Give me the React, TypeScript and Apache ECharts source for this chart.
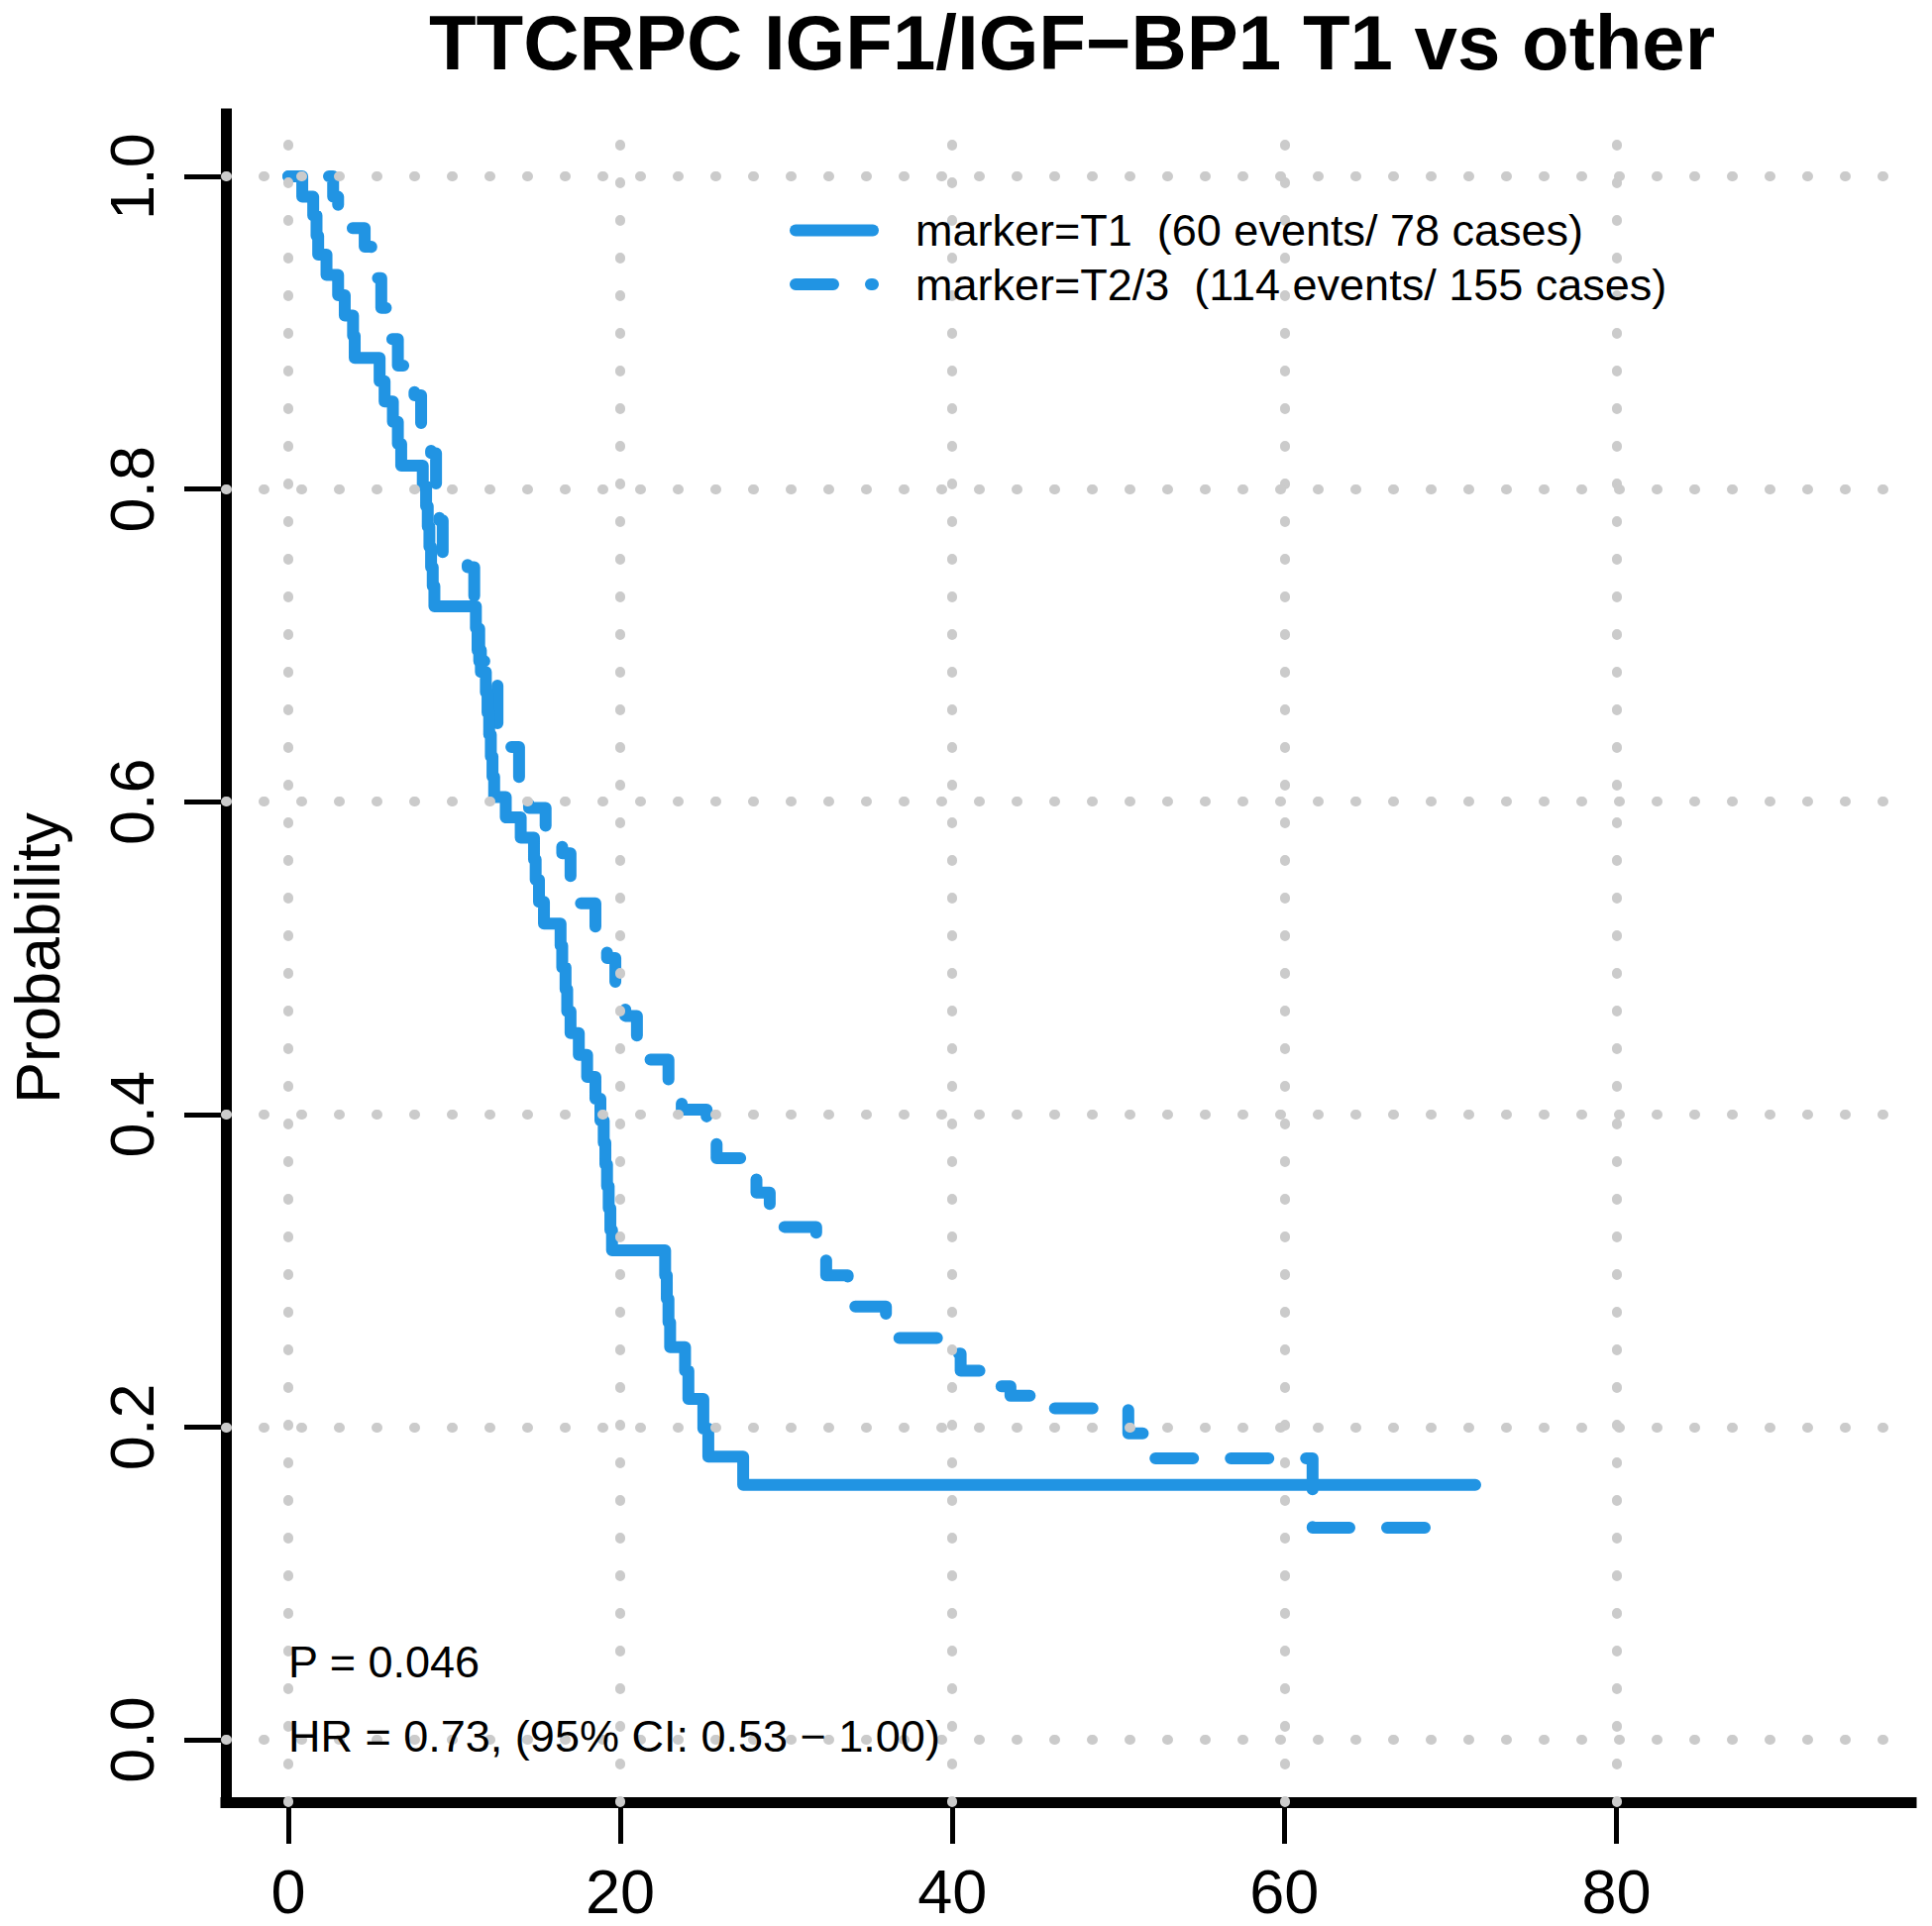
import React, { useEffect, useRef } from 'react';
import * as echarts from 'echarts';

const TITLE = 'TTCRPC IGF1/IGF\u2212BP1 T1 vs other';
const Y_NAME = 'Probability';
const X_TICKS = [0, 20, 40, 60, 80];
const Y_TICKS = [0, 0.2, 0.4, 0.6, 0.8, 1.0];
const SERIES_NAMES = ['marker=T1  (60 events/ 78 cases)', 'marker=T2/3  (114 events/ 155 cases)'];
const P_TEXT = 'P = 0.046';
const HR_TEXT = 'HR = 0.73, (95% CI: 0.53 \u2212 1.00)';

// marker=T1 (solid) Kaplan-Meier steps: time (months) and survival after the drop
const T1_TIME = [0, 0.84, 1.5, 1.7, 1.8, 2.3, 3.0, 3.4, 3.9, 4.0, 5.5, 5.8, 6.3, 6.6, 6.8, 8.1, 8.3, 8.4, 8.5, 8.6, 8.7, 8.8,
  11.3, 11.4, 11.6, 11.9, 12.0, 12.1, 12.2, 12.3, 12.4, 13.1, 14.0, 14.8, 14.9, 15.1, 15.4,
  16.4, 16.5, 16.7, 16.8, 17.0, 17.5, 18.0, 18.5, 18.8, 19.0, 19.1, 19.2, 19.3, 19.4, 19.5,
  22.7, 22.8, 22.9, 23.0, 23.9, 24.1, 25.0, 25.3, 27.4, 71.5];
const T1_SURV = [1.0, 0.987, 0.975, 0.962, 0.95, 0.937, 0.924, 0.911, 0.898, 0.884, 0.869, 0.856, 0.843, 0.829, 0.815,
  0.802, 0.789, 0.776, 0.763, 0.75, 0.738, 0.725,
  0.711, 0.697, 0.683, 0.67, 0.657, 0.643, 0.629, 0.616, 0.603, 0.59, 0.577, 0.563, 0.55, 0.536, 0.522,
  0.508, 0.494, 0.48, 0.466, 0.452, 0.438, 0.424, 0.41, 0.396, 0.382, 0.368, 0.354, 0.34, 0.326, 0.313,
  0.297, 0.282, 0.267, 0.251, 0.236, 0.218, 0.199, 0.181, 0.163, 0.163];

// marker=T2/3 (dashed)
const T23_TIME = [0, 2.7, 3.0, 4.6, 5.0, 5.3, 5.6, 5.9, 6.6, 7.2, 7.6, 8.0, 8.6, 8.9, 9.1, 9.3, 10.8, 11.2, 11.5, 12.0,
  12.6, 13.2, 13.9, 14.5, 15.5, 16.5, 17.0, 17.6, 18.5, 19.2, 19.7, 20.3, 21.0, 22.9, 23.7, 25.2, 25.8, 27.4, 28.2,
  29.0, 31.8, 32.4, 33.7, 36.0, 39.8, 40.5, 42.6, 43.5, 45.5, 50.6, 51.8, 61.7, 68.6];
const T23_SURV = [1.0, 0.987, 0.967, 0.955, 0.945, 0.935, 0.916, 0.896, 0.879, 0.868, 0.86, 0.84, 0.823, 0.8, 0.78, 0.758,
  0.75, 0.72, 0.69, 0.675, 0.65, 0.635, 0.615, 0.596, 0.58, 0.567, 0.55, 0.535, 0.516, 0.5, 0.478, 0.463, 0.435,
  0.415, 0.403, 0.384, 0.372, 0.36, 0.35, 0.328, 0.313, 0.297, 0.277, 0.257, 0.247, 0.236, 0.226, 0.22, 0.212,
  0.196, 0.18, 0.1355, 0.1355];

const FONT = '"Liberation Sans", Arial, Helvetica, sans-serif';
const BLUE = '#2194E3';
const GRID_GRAY = '#CBCBCB';

export default function App() {
  const ref = useRef<HTMLDivElement>(null);
  useEffect(() => {
    if (!ref.current) return;
    const chart = echarts.init(ref.current, undefined, { renderer: 'svg' });
    const t1 = T1_TIME.map((t, i) => [t, T1_SURV[i]]);
    const t23 = T23_TIME.map((t, i) => [t, T23_SURV[i]]);
    const textStyle = { fontFamily: FONT, color: '#000' };
    const option: any = {
      animation: false,
      backgroundColor: '#ffffff',
      title: {
        text: TITLE,
        left: 1082,
        top: 4,
        padding: 0,
        textAlign: 'center',
        textStyle: { ...textStyle, fontSize: 78, fontWeight: 'bold' },
      },
      grid: { left: 228, right: 21, top: 115, bottom: 125, containLabel: false, outerBoundsMode: 'none' },
      xAxis: {
        type: 'value',
        min: -3.76,
        max: 97.76,
        axisLine: { show: true, onZero: false, lineStyle: { color: '#000', width: 11, cap: 'square' } },
        axisTick: { show: true, length: 42, customValues: X_TICKS, lineStyle: { color: '#000', width: 5 } },
        axisLabel: {
          show: true,
          customValues: X_TICKS,
          ...textStyle,
          fontSize: 63,
          margin: 58,
          formatter: (v: number) => String(v),
        },
        splitLine: { show: false },
      },
      yAxis: {
        type: 'value',
        min: -0.04,
        max: 1.04,
        name: Y_NAME,
        nameLocation: 'middle',
        nameRotate: 90,
        nameGap: 159,
        nameTextStyle: { ...textStyle, fontSize: 63 },
        axisLine: { show: true, onZero: false, lineStyle: { color: '#000', width: 11, cap: 'square' } },
        axisTick: { show: true, length: 42, customValues: Y_TICKS, lineStyle: { color: '#000', width: 5 } },
        axisLabel: {
          show: true,
          customValues: Y_TICKS,
          rotate: 90,
          ...textStyle,
          fontSize: 63,
          margin: 64,
          formatter: (v: number) => v.toFixed(1),
        },
        splitLine: { show: false },
      },
      series: [
        {
          type: 'line',
          name: 'grid',
          data: [],
          silent: true,
          z: 1,
          markLine: {
            silent: true,
            animation: false,
            symbol: ['none', 'none'],
            label: { show: false },
            lineStyle: { color: GRID_GRAY, width: 10, type: [1, 37], cap: 'round' },
            emphasis: { disabled: true },
            data: [...X_TICKS.map((v) => ({ xAxis: v })), ...Y_TICKS.map((v) => ({ yAxis: v }))],
          },
        },
        {
          type: 'line',
          name: SERIES_NAMES[1],
          step: 'end',
          showSymbol: false,
          symbol: 'none',
          z: 3,
          data: t23,
          lineStyle: { color: BLUE, width: 12, type: [38, 38], dashOffset: 35, cap: 'round', join: 'round' },
        },
        {
          type: 'line',
          name: SERIES_NAMES[0],
          step: 'end',
          showSymbol: false,
          symbol: 'none',
          z: 4,
          data: t1,
          lineStyle: { color: BLUE, width: 12, type: 'solid', cap: 'round', join: 'round' },
        },
      ],
      graphic: [
        {
          type: 'line',
          z: 10,
          shape: { x1: 803, y1: 232.5, x2: 881, y2: 232.5 },
          style: { stroke: BLUE, lineWidth: 12, lineCap: 'round' },
        },
        {
          type: 'line',
          z: 10,
          shape: { x1: 803, y1: 287, x2: 881, y2: 287 },
          style: { stroke: BLUE, lineWidth: 12, lineCap: 'round', lineDash: [38, 38] },
        },
        {
          type: 'text',
          z: 10,
          x: 924,
          y: 232.5,
          style: { text: SERIES_NAMES[0], font: `45px ${FONT}`, fill: '#000', textAlign: 'left', textVerticalAlign: 'middle' },
        },
        {
          type: 'text',
          z: 10,
          x: 924,
          y: 287,
          style: { text: SERIES_NAMES[1], font: `45px ${FONT}`, fill: '#000', textAlign: 'left', textVerticalAlign: 'middle' },
        },
        {
          type: 'text',
          z: 10,
          x: 291,
          y: 1677,
          style: { text: P_TEXT, font: `45px ${FONT}`, fill: '#000', textAlign: 'left', textVerticalAlign: 'middle' },
        },
        {
          type: 'text',
          z: 10,
          x: 291,
          y: 1752,
          style: { text: HR_TEXT, font: `45px ${FONT}`, fill: '#000', textAlign: 'left', textVerticalAlign: 'middle' },
        },
      ],
    };
    chart.setOption(option);
    return () => chart.dispose();
  }, []);
  return <div ref={ref} style={{ position: 'absolute', left: 0, top: 0, width: 1950, height: 1944, background: '#fff' }} />;
}
